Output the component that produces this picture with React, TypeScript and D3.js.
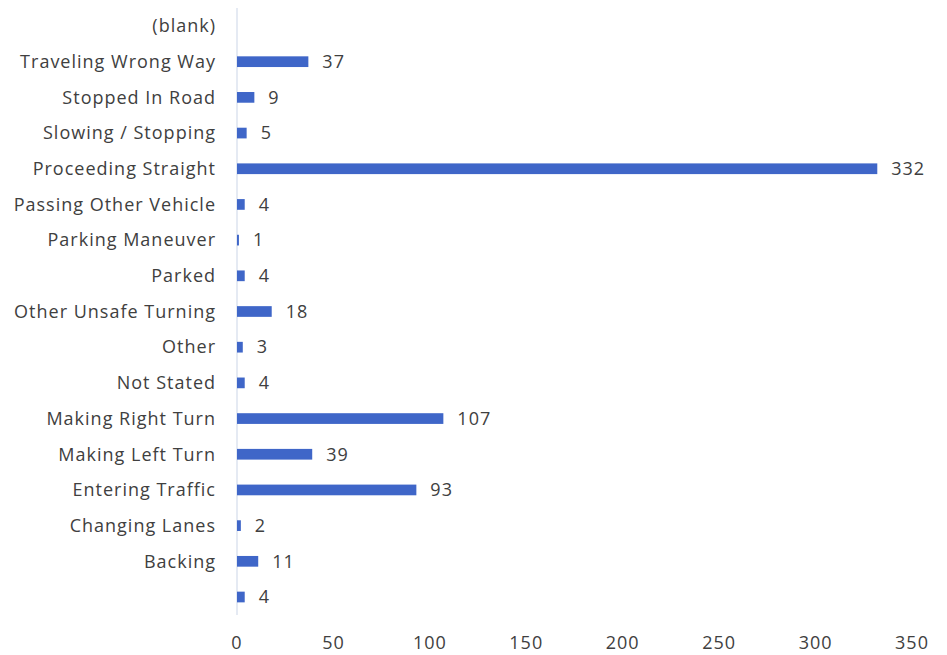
import * as d3 from 'd3';

const categories = [
  '(blank)', 'Traveling Wrong Way', 'Stopped In Road', 'Slowing / Stopping',
  'Proceeding Straight', 'Passing Other Vehicle', 'Parking Maneuver', 'Parked',
  'Other Unsafe Turning', 'Other', 'Not Stated', 'Making Right Turn',
  'Making Left Turn', 'Entering Traffic', 'Changing Lanes', 'Backing', '',
];
const values: (number | null)[] = [
  null, 37, 9, 5, 332, 4, 1, 4, 18, 3, 4, 107, 39, 93, 2, 11, 4,
];
const ticks = [0, 50, 100, 150, 200, 250, 300, 350];

const BAR = '#3f66c8';
const TEXT = '#404040';
const FONT = '"Open Sans", sans-serif';

export default function App() {
  const width = 947;
  const height = 655;
  const x = d3.scaleLinear().domain([0, 350]).range([237, 912]);
  const y = d3.scaleBand<number>()
    .domain(d3.range(categories.length))
    .range([8.15, 614.85])
    .paddingInner(0.7)
    .paddingOuter(0.35);

  return (
    <svg width={width} height={height} style={{ position: 'absolute', left: 0, top: 0, background: '#fff' }}
      fontFamily={FONT} letterSpacing={1}>
      <line x1={x(0)} x2={x(0)} y1={8} y2={615} stroke="#dde3ef" strokeWidth={1.5} />
      {categories.map((c, i) => {
        const cy = (y(i) ?? 0) + y.bandwidth() / 2;
        const v = values[i];
        return (
          <g key={i}>
            <text x={216} y={cy} dy="0.35em" textAnchor="end" fontSize={18} fill={TEXT}>{c}</text>
            {v !== null && (
              <>
                <rect x={x(0)} y={y(i)} width={Math.max(x(v) - x(0), 1.5)} height={y.bandwidth()} fill={BAR} />
                <text x={x(v) + 14} y={cy} dy="0.35em" fontSize={18} fill={TEXT}>{v}</text>
              </>
            )}
          </g>
        );
      })}
      {ticks.map(t => (
        <text key={t} x={x(t)} y={649} textAnchor="middle" fontSize={18} fill={TEXT}>{t}</text>
      ))}
    </svg>
  );
}
